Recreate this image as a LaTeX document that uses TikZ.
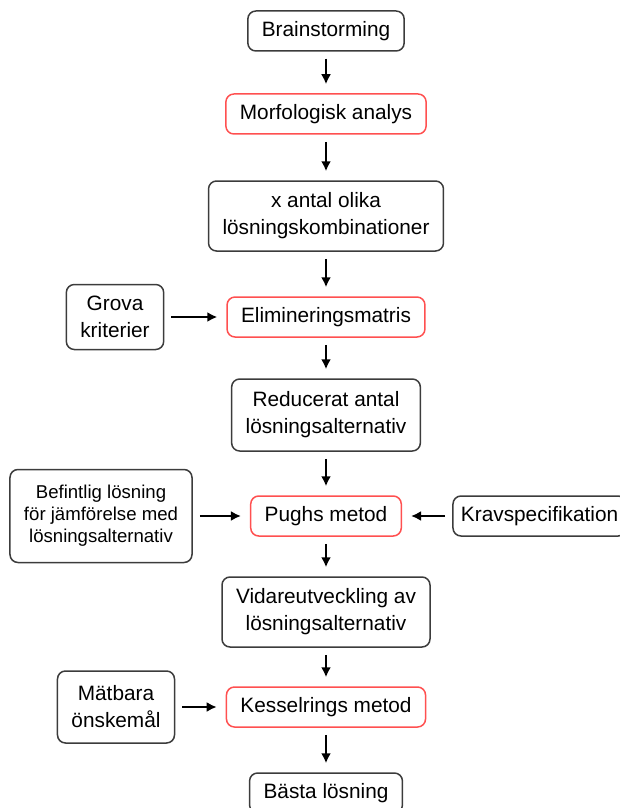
\documentclass[tikz,border=0pt]{standalone}
\usepackage{fontspec}
\setmainfont{Liberation Sans}
\usepackage{xcolor}
\usetikzlibrary{arrows.meta, positioning}
\definecolor{boxred}{RGB}{255,80,80}
\definecolor{boxgrey}{RGB}{60,60,60}
\tikzset{
    box/.style={
        rectangle,
        rounded corners=4pt,
        draw=boxgrey,
        line width=0.75pt,
        align=center,
        inner xsep=7pt,
        inner ysep=3pt,
        minimum height=20pt,
        font=\fontsize{10.4}{13.5}\selectfont,
    },
    redbox/.style={
        box,
        draw=boxred,
    },
    flow/.style={
        -{Latex[length=5pt,width=5pt]},
        line width=1pt,
        shorten <=3.5pt,
        shorten >=4.5pt,
    },
}

\begin{document}
\begin{tikzpicture}[x=0.5pt, y=-0.5pt, node distance=50pt, on grid]
      \useasboundingbox (0,0) rectangle (620,808);
      \clip (0,0) rectangle (620,808);

      % main column
      \node[box] (brain) at (326,31) {Brainstorming};
      \node[redbox, below=41.5pt of brain] (morf) {Morfologisk analys};
      \node[box, below=51pt of morf, minimum height=35pt] (komb) {x antal olika\\lösningskombinationer};
      \node[redbox, below=50.5pt of komb] (elim) {Elimineringsmatris};
      \node[box, below=49pt of elim, minimum height=36pt] (reduc) {Reducerat antal\\lösningsalternativ};
      \node[redbox, below=50.5pt of reduc] (pugh) {Pughs metod};
      \node[box, below=48pt of pugh, minimum height=35pt] (vidare) {Vidareutveckling av\\lösningsalternativ};
      \node[redbox, below=47.5pt of vidare] (kessel) {Kesselrings metod};
      \node[box, below=43pt of kessel] (basta) {Bästa lösning};

      % inputs from the sides
      \node[box, left=105.5pt of elim, minimum height=32.5pt] (grova) {Grova\\kriterier};
      \node[box, left=112.5pt of pugh, minimum height=46.5pt, minimum width=90pt,
            font=\fontsize{9.3}{11}\selectfont] (befintlig) {Befintlig lösning\\för jämförelse med\\lösningsalternativ};
      \node[box, right=106.8pt of pugh, inner xsep=4pt] (krav) {Kravspecifikation};
      \node[box, left=105pt of kessel, minimum height=36pt] (matbara) {Mätbara\\önskemål};

      \draw[flow] (brain) -- (morf);
      \draw[flow] (morf) -- (komb);
      \draw[flow] (komb) -- (elim);
      \draw[flow] (elim) -- (reduc);
      \draw[flow] (reduc) -- (pugh);
      \draw[flow] (pugh) -- (vidare);
      \draw[flow] (vidare) -- (kessel);
      \draw[flow] (kessel) -- (basta);

      \draw[flow] (grova) -- (elim);
      \draw[flow] (befintlig) -- (pugh);
      \draw[flow] (krav) -- (pugh);
      \draw[flow] (matbara) -- (kessel);
    \end{tikzpicture}
\end{document}
